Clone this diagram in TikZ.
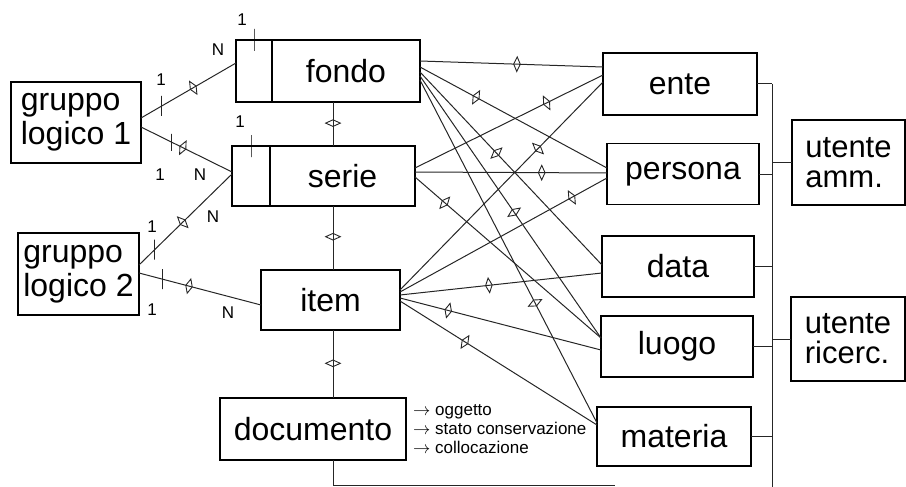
\documentclass[tikz,border=0pt]{standalone}
\usepackage{fontspec}
\setmainfont{Liberation Sans}
\usetikzlibrary{shapes,arrows,calc,positioning}

\begin{document}
\begin{tikzpicture}[x=1pt, y=-1pt, node distance=0pt]
        \tikzstyle{block} = [rectangle, draw, line width=1.2pt, inner sep=0pt, outer sep=0pt,
        minimum width=152pt, minimum height=61pt, font=\fontsize{32}{34}\selectfont]
        \tikzstyle{user} = [align=left, font=\fontsize{31}{30}\selectfont]
        \tikzset{line/.style={draw, line width=1pt, color=black!85}}
        \tikzset{lens/.style={diamond, draw, sloped, inner sep=0pt, line width=0.9pt,
        minimum width=7pt, minimum height=15pt}}
        \tikzset{bar/.style={draw, inner sep=0pt, line width=1pt, minimum width=0pt, minimum height=20pt}}
        \tikzset{tag/.style={inner sep=0pt, font=\fontsize{17}{17}\selectfont}}
        \tikzset{card/.style={inner sep=0pt, align=left, font=\fontsize{17}{19}\selectfont}}

        \useasboundingbox (0,0) rectangle (906,487);

        % gruppi logici
        \node [block, minimum width=130pt, minimum height=81pt, align=left] (grp1) at (76,122.5) {gruppo\\logico 1};
        \node [block, minimum width=121pt, minimum height=82pt, align=left] (grp2) at (78.5,274) {gruppo\\logico 2};

        % gerarchia
        \node [block, minimum width=148pt, minimum height=62pt] (fondo) at (346,71) {fondo};
        \node [block, minimum width=36pt, minimum height=62pt, left=of fondo] (fondoL) {};
        \node [block, minimum width=145pt, minimum height=60pt] (serie) at (342.5,176) {serie};
        \node [block, minimum width=38pt, minimum height=60pt, left=of serie] (serieL) {};
        \node [block, minimum width=139pt, minimum height=60pt] (item) at (330.5,300) {item};
        \node [block, minimum width=186pt, minimum height=62pt] (doc) at (313,429) {documento};
        \node [card, right=7pt of doc] (note) {$\rightarrow$ oggetto\\$\rightarrow$ stato conservazione\\$\rightarrow$ collocazione};

        % indici
        \node [block, minimum width=154pt, minimum height=62pt] (ente) at (680,84) {ente};
        \node [block] (persona) at (683,174) {persona};
        \node [block] (data) at (678,266.5) {data};
        \node [block] (luogo) at (677,346.5) {luogo};
        \node [block, minimum width=154pt, minimum height=59pt] (materia) at (674,436.5) {materia};

        % utenti
        \node [block, user, minimum width=113pt, minimum height=85pt] (amm) at (848.5,162.5) {utente\\amm.};
        \node [block, user, minimum width=114pt, minimum height=84pt] (ric) at (848,339) {utente\\ricerc.};

        \coordinate (axis) at (333,0);
        \coordinate (docend) at (615,485);
        \coordinate (bustop) at (772,84);
        \coordinate (busbot) at (772,487);

        % cardinalita
        \node [tag] (c1a) at (161,80) {1};
        \node [tag] (c1b) at (218,50) {N};
        \node [tag] (c2a) at (160,175) {1};
        \node [tag] (c2b) at (200,175) {N};
        \node [tag] (c3a) at (152,227) {1};
        \node [tag] (c3b) at (213,217) {N};
        \node [tag] (c4a) at (152,310) {1};
        \node [tag] (c4b) at (228,313) {N};
        \node [tag] (c5) at (242,20) {1};
        \node [tag] (c6) at (240,122) {1};
        \node [bar, minimum height=22pt] (ftick) at (fondoL.north) {};
        \node [bar, minimum height=22pt] (stick) at (serieL.north) {};

        \path [line] ([yshift=4.5pt]grp1.east) -- node [bar, pos=0.22] {} node [lens, pos=0.55] {} ([yshift=8pt]fondoL.west);
        \path [line] ([yshift=-4.5pt]grp1.east) -- node [bar, pos=0.34, minimum height=17pt] {} node [lens, pos=0.46] {} ([yshift=4pt]serieL.west);
        \path [line] ([yshift=9pt]grp2.east) -- node [bar, pos=0.17] {} node [lens, pos=0.47] {} ([yshift=2pt]serieL.west);
        \path [line] ([yshift=1pt]grp2.east) -- node [bar, pos=0.19] {} node [lens, pos=0.41] {} ([yshift=-5pt]item.west);

        \path [line] (fondo.south -| axis) -- node [lens, pos=0.48] {} (serie.north -| axis);
        \path [line] (serie.south -| axis) -- node [lens, pos=0.48] {} (item.north -| axis);
        \path [line] (item.south -| axis) -- node [lens, pos=0.49] {} (doc.north -| axis);
        \path [line] (doc.south -| axis) -- (docend -| axis) -- (docend);

        \path [line] ([yshift=10pt]fondo.east) -- node [lens, pos=0.53] {} ([yshift=17pt]ente.west);
        \path [line] ([yshift=4pt]fondo.east) -- node [lens, pos=0.30] {} ([yshift=6pt]persona.west);
        \path [line] ([yshift=-1pt]fondo.east) -- node [lens, pos=0.42] {} ([yshift=1.5pt]data.west);
        \path [line] ([yshift=-5pt]fondo.east) -- node [lens, pos=0.52] {} ([yshift=8.5pt]luogo.west);
        \path [line] ([yshift=-9pt]fondo.east) -- node [lens, pos=0.65] {} ([yshift=13.5pt]materia.west);
        \path [line] ([yshift=8pt]serie.east) -- node [lens, pos=0.70] {} ([yshift=9pt]ente.west);
        \path [line] ([yshift=4pt]serie.east) -- node [lens, pos=0.66] {} ([yshift=1pt]persona.west);
        \path [line] ([yshift=-1pt]serie.east) -- node [lens, pos=0.16] {} ([yshift=8.5pt]luogo.west);
        \path [line] ([yshift=10pt]item.east) -- node [lens, pos=0.68] {} ([yshift=2pt]ente.west);
        \path [line] ([yshift=8pt]item.east) -- node [lens, pos=0.83] {} ([yshift=-4pt]persona.west);
        \path [line] ([yshift=5pt]item.east) -- node [lens, pos=0.44] {} ([yshift=-6.5pt]data.west);
        \path [line] ([yshift=2pt]item.east) -- node [lens, pos=0.24] {} ([yshift=-3.5pt]luogo.west);
        \path [line] ([yshift=-1pt]item.east) -- node [lens, pos=0.33] {} ([yshift=11.5pt]materia.west);

        % collegamento utenti
        \path [line] (bustop) -- (busbot);
        \path [line] (ente.east) -- (bustop);
        \path [line] (persona.east) -- (persona.east -| bustop);
        \path [line] (data.east) -- (data.east -| bustop);
        \path [line] (luogo.east) -- (luogo.east -| bustop);
        \path [line] (materia.east) -- (materia.east -| bustop);
        \path [line] (amm.west) -- (amm.west -| bustop);
        \path [line] (ric.west) -- (ric.west -| bustop);

    \end{tikzpicture}
\end{document}
